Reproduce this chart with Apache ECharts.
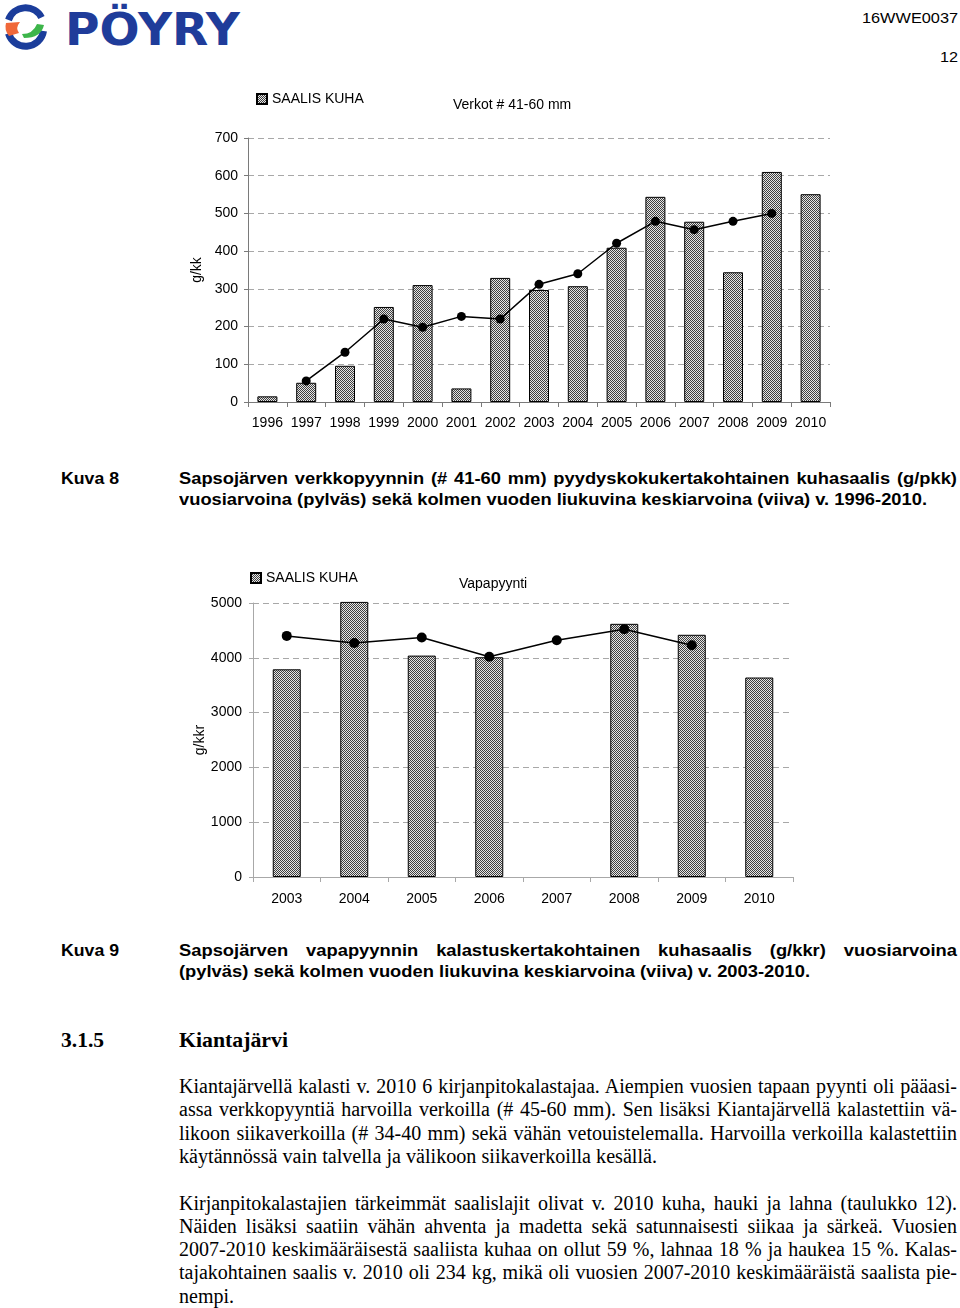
<!DOCTYPE html>
<html>
<head>
<meta charset="utf-8">
<script src="https://cdn.jsdelivr.net/npm/echarts@6/dist/echarts.min.js"></script>
<style>
  html, body { margin:0; padding:0; background:#fff; }
  body { width:960px; height:1308px; position:relative; overflow:hidden; }
  .ln { position:absolute; color:#000; box-sizing:border-box; }
</style>
</head>
<body>
<svg width="250" height="55" style="position:absolute;left:0;top:0">
  <path d="M8.5 20 A18 18 0 0 1 41.5 17.5" fill="none" stroke="#1b3d9b" stroke-width="7"/>
  <path d="M8.5 33.5 A18 18 0 0 0 43.5 31" fill="none" stroke="#1b3d9b" stroke-width="7"/>
  <path d="M6 23 Q4 30 9 36 L19 33 Q15 28 20 22 Z" fill="#f0683a"/>
  <path d="M22 34 Q33 34 37 24 L44 25 Q41 38 24 38 Z" fill="#3db54a"/>
  <text x="65" y="45" font-family="DejaVu Sans" font-weight="bold" font-size="45" fill="#1f3c9a" textLength="175" lengthAdjust="spacingAndGlyphs">PÖYRY</text>
</svg>
<div id="c1" style="position:absolute;left:0;top:80px;width:960px;height:360px"></div>
<div id="c2" style="position:absolute;left:0;top:560px;width:960px;height:350px"></div>
<script>
// ---- Chart data ----
const years1 = ['1996','1997','1998','1999','2000','2001','2002','2003','2004','2005','2006','2007','2008','2009','2010'];
const catch1 = [15, 51, 96, 252, 310, 36, 329, 297, 307, 409, 544, 478, 344, 610, 551];
const avg1   = [null, 56, 132, 220, 198, 227, 220, 312, 340, 421, 479, 457, 479, 500, null];
const yTicks1 = [0, 700, 100]; // min, max, interval

const years2 = ['2003','2004','2005','2006','2007','2008','2009','2010'];
const catch2 = [3790, 5020, 4040, 4010, null, 4620, 4420, 3640];
const avg2   = [4400, 4270, 4370, 4020, 4320, 4520, 4230, null];
const yTicks2 = [0, 5000, 1000];

const legendName = 'SAALIS KUHA';
const title1 = 'Verkot # 41-60 mm';
const title2 = 'Vapapyynti';
const yName1 = 'g/kk';
const yName2 = 'g/kkr';

const FONT = '"Liberation Sans", Arial, sans-serif';

function makePattern(){
  const c = document.createElement('canvas');
  c.width = 4; c.height = 4;
  const g = c.getContext('2d');
  g.fillStyle = '#e6e6e6'; g.fillRect(0,0,4,4);
  g.fillStyle = '#404040';
  for (let y=0;y<4;y++) for (let x=0;x<4;x++) if ((x+y)%2===0) g.fillRect(x,y,1,1);
  return c;
}
const pat = { image: makePattern(), repeat: 'repeat' };

function buildOption(cfg){
  return {
    animation: false,
    title: { text: cfg.title, left: cfg.titleLeft, top: cfg.titleTop, padding: 0,
      textStyle: { fontSize: 14, fontWeight: 'normal', color: '#000', fontFamily: FONT } },
    legend: { data: [{ name: legendName, icon: 'rect' }], left: cfg.legLeft, top: cfg.legTop,
      padding: 0, itemWidth: 10, itemHeight: 10, selectedMode: false,
      textStyle: { fontSize: 14, color: '#000', fontFamily: FONT } },
    grid: cfg.grid,
    xAxis: { type: 'category', data: cfg.cats, boundaryGap: true,
      axisLine: { lineStyle: { color: cfg.axisColor, width: 1 } },
      axisTick: { show: true, length: 5, lineStyle: { color: cfg.axisColor } },
      axisLabel: { color: '#000', fontSize: 14, margin: cfg.xMargin, fontFamily: FONT,
        interval: 0, hideOverlap: false } },
    yAxis: { type: 'value', min: cfg.ticks[0], max: cfg.ticks[1], interval: cfg.ticks[2],
      axisLine: { show: true, lineStyle: { color: cfg.axisColor, width: 1 } },
      axisTick: { show: true, length: 4, lineStyle: { color: cfg.axisColor } },
      axisLabel: { color: '#000', fontSize: 14, margin: cfg.yMargin, fontFamily: FONT,
        formatter: function(v){ return String(v); } },
      splitLine: { show: true, lineStyle: { color: '#a8a8a8', type: [6,4], width: 1 } } },
    graphic: [{ type: 'text', x: cfg.yNameX, y: cfg.yNameY, rotation: Math.PI/2,
      style: { text: cfg.yName, fontSize: 14, fontFamily: FONT, fill: '#000',
        align: 'center', verticalAlign: 'middle', textAlign: 'center', textVerticalAlign: 'middle' } }],
    series: [
      { name: legendName, type: 'bar', data: cfg.bars, barWidth: cfg.barWidth, clip: false,
        itemStyle: { color: pat, borderColor: '#000', borderWidth: 1 } },
      { name: 'Liukuva keskiarvo', type: 'line', data: cfg.line, z: 5,
        symbol: 'circle', symbolSize: cfg.sym, connectNulls: false,
        lineStyle: { color: '#000', width: 1.5 }, itemStyle: { color: '#000' } }
    ]
  };
}

const ch1 = echarts.init(document.getElementById('c1'));
ch1.setOption(buildOption({
  title: title1, titleLeft: 453, titleTop: 18, legLeft: 256, legTop: 12,
  grid: { left: 248, top: 58, width: 582, height: 264 },
  cats: years1, bars: catch1, line: avg1, ticks: yTicks1,
  axisColor: '#7a7a7a', xMargin: 14, yMargin: 10, barWidth: 20, sym: 9,
  yName: yName1, yNameX: 197, yNameY: 190
}));

const ch2 = echarts.init(document.getElementById('c2'));
ch2.setOption(buildOption({
  title: title2, titleLeft: 459, titleTop: 17, legLeft: 250, legTop: 11,
  grid: { left: 253, top: 43, width: 540, height: 274 },
  cats: years2, bars: catch2, line: avg2, ticks: yTicks2,
  axisColor: '#a8a8a8', xMargin: 15, yMargin: 11, barWidth: 28, sym: 10,
  yName: yName2, yNameX: 200, yNameY: 180
}));

// ---- Document text ----
const capFont = 'bold 17px "Liberation Sans", Arial, sans-serif';
const headFont = 'bold 21.5px "Liberation Serif", "Times New Roman", serif';
const bodyFont = '20px "Liberation Serif", "Times New Roman", serif';
const smallFont = '15px "Liberation Sans", Arial, sans-serif';

// g: group id; lines of one group share the horizontal scale of their 'fit' line
const textLines = [
  { t: '16WWE0037', x: 862, x2: 958, y: 18, f: smallFont, mode: 'fit' },
  { t: '12', x: 940, x2: 958, y: 57, f: smallFont, mode: 'fit' },
  { t: 'Kuva 8', x: 61, x2: 119, y: 479, f: capFont, mode: 'fit' },
  { t: 'Sapsojärven verkkopyynnin (# 41-60 mm) pyydyskokukertakohtainen kuhasaalis (g/pkk)', x: 179, x2: 957, y: 479, f: capFont, mode: 'justify', g: 'k8' },
  { t: 'vuosiarvoina (pylväs) sekä kolmen vuoden liukuvina keskiarvoina (viiva) v. 1996-2010.', x: 179, x2: 927, y: 500, f: capFont, mode: 'fit', g: 'k8' },
  { t: 'Kuva 9', x: 61, x2: 119, y: 951, f: capFont, mode: 'fit' },
  { t: 'Sapsojärven vapapyynnin kalastuskertakohtainen kuhasaalis (g/kkr) vuosiarvoina', x: 179, x2: 957, y: 951, f: capFont, mode: 'justify', g: 'k9' },
  { t: '(pylväs) sekä kolmen vuoden liukuvina keskiarvoina (viiva) v. 2003-2010.', x: 179, x2: 810, y: 972, f: capFont, mode: 'fit', g: 'k9' },
  { t: '3.1.5', x: 61, x2: 104, y: 1040, f: headFont, mode: 'fit' },
  { t: 'Kiantajärvi', x: 179, x2: 288, y: 1040, f: headFont, mode: 'fit' },
  { t: 'Kiantajärvellä kalasti v. 2010 6 kirjanpitokalastajaa. Aiempien vuosien tapaan pyynti oli pääasi-', x: 179, x2: 957, y: 1086, f: bodyFont, mode: 'justify' },
  { t: 'assa verkkopyyntiä harvoilla verkoilla (# 45-60 mm). Sen lisäksi Kiantajärvellä kalastettiin vä-', x: 179, x2: 957, y: 1109, f: bodyFont, mode: 'justify' },
  { t: 'likoon siikaverkoilla (# 34-40 mm) sekä vähän vetouistelemalla. Harvoilla verkoilla kalastettiin', x: 179, x2: 957, y: 1133, f: bodyFont, mode: 'justify' },
  { t: 'käytännössä vain talvella ja välikoon siikaverkoilla kesällä.', x: 179, x2: 657, y: 1156, f: bodyFont, mode: 'fit' },
  { t: 'Kirjanpitokalastajien tärkeimmät saalislajit olivat v. 2010 kuha, hauki ja lahna (taulukko 12).', x: 179, x2: 957, y: 1203, f: bodyFont, mode: 'justify' },
  { t: 'Näiden lisäksi saatiin vähän ahventa ja madetta sekä satunnaisesti siikaa ja särkeä. Vuosien', x: 179, x2: 957, y: 1226, f: bodyFont, mode: 'justify' },
  { t: '2007-2010 keskimääräisestä saaliista kuhaa on ollut 59 %, lahnaa 18 % ja haukea 15 %. Kalas-', x: 179, x2: 957, y: 1249, f: bodyFont, mode: 'justify' },
  { t: 'tajakohtainen saalis v. 2010 oli 234 kg, mikä oli vuosien 2007-2010 keskimääräistä saalista pie-', x: 179, x2: 957, y: 1272, f: bodyFont, mode: 'justify' },
  { t: 'nempi.', x: 179, x2: 234, y: 1296, f: bodyFont, mode: 'fit' }
];

const mctx = document.createElement('canvas').getContext('2d');
function natural(L){ mctx.font = L.f; return mctx.measureText(L.t).width; }
const groupScale = {};
textLines.forEach(function(L){
  if (L.g && L.mode === 'fit') groupScale[L.g] = (L.x2 - L.x) / natural(L);
});

textLines.forEach(function(L){
  const w = natural(L);
  const d = document.createElement('div');
  d.className = 'ln';
  d.textContent = L.t;
  d.style.font = L.f;
  const lh = 24;
  d.style.lineHeight = lh + 'px';
  d.style.height = lh + 'px';
  d.style.top = (L.y - lh/2) + 'px';
  d.style.left = L.x + 'px';
  d.style.transformOrigin = '0 50%';
  const target = L.x2 - L.x;
  if (L.mode === 'justify') {
    let k = L.g ? groupScale[L.g] : 1;
    if (w * k > target) k = target / w;
    d.style.width = (target / k) + 'px';
    d.style.textAlign = 'justify';
    d.style.textAlignLast = 'justify';
    if (Math.abs(k - 1) > 0.001) d.style.transform = 'scaleX(' + k.toFixed(4) + ')';
    if (w > target / k - 1) d.style.whiteSpace = 'nowrap';
  } else {
    d.style.whiteSpace = 'nowrap';
    d.style.transform = 'scaleX(' + (target / w).toFixed(4) + ')';
  }
  document.body.appendChild(d);
});
</script>
</body>
</html>
